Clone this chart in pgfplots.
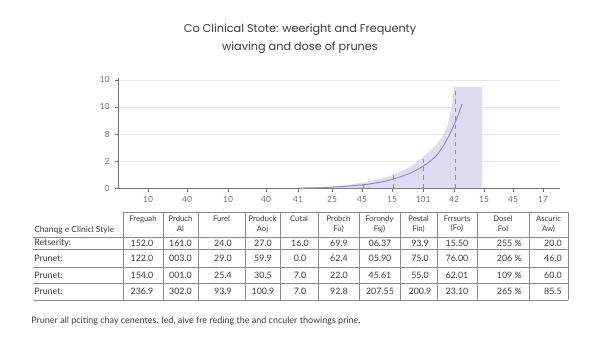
\documentclass[border=0pt]{standalone}
\usepackage{pgfplots}
\pgfplotsset{compat=1.18}
\usepackage{fontspec}
\setmainfont{Lato}
\newfontfamily\titlefont{Poppins}
\definecolor{lav}{HTML}{DEDBF2}
\definecolor{lineP}{HTML}{9088CC}
\definecolor{dashP}{HTML}{8F8BA8}
\definecolor{txt}{HTML}{3C3C3C}
\definecolor{tick}{HTML}{707070}
\definecolor{rule}{HTML}{8A8A8A}
\begin{document}
\begin{tikzpicture}
\begin{axis}[
  at={(2.95cm,-4.7cm)}, anchor=south west,
  scale only axis, width=11.05cm, height=2.75cm,
  xmin=118, xmax=560, ymin=0, ymax=4.07,
  axis x line=bottom, axis y line=left,
  axis line style={-, draw=tick, line width=0.6pt},
  xtick={148,187,228,266,298,332,362,392,423,454,484,513,543},
  xticklabels={10,40,10,40,41,25,45,15,101,42,15,45,17},
  ytick={0,1,2,3,4},
  yticklabels={0,2,8,10,10},
  tick align=outside, major tick length=2.5pt,
  tick style={draw=tick, line width=0.4pt},
  ymajorgrids, grid style={draw=gray!18, line width=0.5pt},
  ticklabel style={font=\fontsize{6}{7}\selectfont, text=tick},
  clip=false,
]
\addplot[fill=lav, draw=none] coordinates {(300,0)(320,0.02)(340,0.08)(363,0.2)(380,0.34)(393,0.48)(410,0.78)(423,1.15)(435,1.55)(442,1.88)(447,2.28)(450,2.7)(452,3.1)(454,3.74)(482,3.74)(482,0)} -- cycle;
\addplot[lineP, line width=0.65pt, smooth] coordinates {(300,0)(330,0.03)(363,0.12)(380,0.22)(393,0.33)(410,0.55)(423,0.81)(435,1.15)(443,1.55)(449,1.95)(453,2.26)(458,2.7)(462,3.11)};
\addplot[dashP, dashed, line width=0.45pt] coordinates {(363,0)(363,0.2)};
\addplot[dashP, dashed, line width=0.45pt] coordinates {(393,0)(393,0.48)};
\addplot[dashP, dashed, line width=0.45pt] coordinates {(423,0)(423,1.15)};
\addplot[dashP, dashed, line width=0.55pt] coordinates {(455,0)(455,3.74)};
\end{axis}
\begin{scope}[x=0.025cm,y=-0.025cm]
\path[use as bounding box] (0,0) rectangle (600,338);
% title
\node[font=\titlefont\fontsize{8}{9.5}\selectfont, text=txt] at (300,30) {Co Clinical Stote: weeright and Frequenty};
\node[font=\titlefont\fontsize{8}{9.5}\selectfont, text=txt] at (300,48) {wiaving and dose of prunes};
% table rules
\draw[rule, line width=0.5pt] (123,212) -- (568,212);
\foreach \yy in {237,249,267,283,300} {\draw[rule, line width=0.5pt] (33,\yy) -- (568,\yy);}
\foreach \xx in {123,163,198,245,280,318,359,400,437,477,529,568} {\draw[rule, line width=0.5pt] (\xx,212) -- (\xx,300);}
% headers
\begin{scope}[every node/.style={font=\fontsize{5.5}{6.5}\selectfont, text=txt, align=center, anchor=north, inner sep=0pt}]
\node at (143,216) {Freguah};
\node at (180.5,216) {Prduch\\Al};
\node at (221.5,216) {Furel};
\node at (262.5,216) {Produck\\Aoj};
\node at (299,216) {Cutal};
\node at (338.5,216) {Probch\\Fu)};
\node at (379.5,216) {Forondy\\Fsj)};
\node at (418.5,216) {Pestal\\Fin)};
\node at (457,216) {Frrsurts\\(Fo)};
\node at (503,216) {Dosel\\Fol};
\node at (548.5,216) {Ascuric\\Aw)};
\end{scope}
\node[font=\fontsize{6}{7}\selectfont, text=txt, anchor=west, inner sep=0pt] at (34,230) {Chanqg e Clinicl Style};
% rows
\begin{scope}[every node/.style={font=\fontsize{6.3}{7}\selectfont, text=txt, inner sep=0pt}]
\foreach \lab/\yy in {Retserity:/243, Prunet:/258, Prunet:/275, Prunet:/291} {\node[anchor=west] at (34,\yy) {\lab};}
\foreach \yy/\a/\b/\c/\d/\e/\f/\g/\h/\i/\j/\k in {
 243/152.0/161.0/24.0/27.0/16.0/69.9/06.37/93.9/15.50/255 \%/20.0,
 258/122.0/003.0/29.0/59.9/0.0/62.4/05.90/75.0/76.00/206 \%/46.0,
 275/154.0/001.0/25.4/30.5/7.0/22.0/45.61/55.0/62.01/109 \%/60.0,
 291/236.9/302.0/93.9/100.9/7.0/92.8/207.55/200.9/23.10/265 \%/85.5} {
 \node at (142,\yy) {\a};
 \node at (180.5,\yy) {\b};
 \node at (223,\yy) {\c};
 \node at (263,\yy) {\d};
 \node at (300,\yy) {\e};
 \node at (339,\yy) {\f};
 \node at (380,\yy) {\g};
 \node at (420,\yy) {\h};
 \node at (457,\yy) {\i};
 \node[anchor=east] at (522,\yy) {\j};
 \node[anchor=east] at (562,\yy) {\k};
}
\end{scope}
% footnote
\node[font=\fontsize{6.4}{7.5}\selectfont, text=txt, anchor=west, inner sep=0pt] at (31,321) {Pruner all pciting chay cenentes. led, aive fre reding the and cnculer thowings prine.};
\end{scope}
\end{tikzpicture}
\end{document}
